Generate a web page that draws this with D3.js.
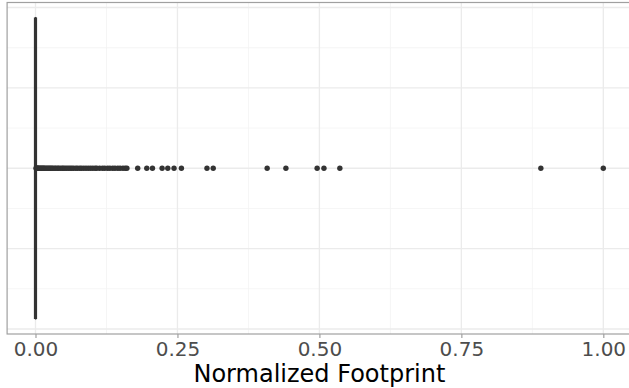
<!DOCTYPE html>
<html>
<head>
<meta charset="utf-8">
<script src="https://cdn.jsdelivr.net/npm/d3@7"></script>
<style>
  html, body { margin: 0; padding: 0; background: #fff; }
  svg { display: block; }
</style>
</head>
<body>
<svg id="chart" width="629" height="388"></svg>
<script>
// Box summary of the normalized footprint (min, q1, median, q3, upper whisker)
const boxStats = [0, 0, 0, 0.0004, 0.0008];

// Outlying footprints beyond the upper whisker
const outliers = [
  0.001, 0.002, 0.003, 0.004, 0.005, 0.006, 0.008, 0.009, 0.011, 0.012,
  0.014, 0.015, 0.017, 0.019, 0.021, 0.023, 0.025, 0.027, 0.029, 0.031,
  0.034, 0.036, 0.039, 0.041, 0.044, 0.047, 0.049, 0.052, 0.055, 0.058,
  0.061, 0.064, 0.067, 0.071, 0.074, 0.078, 0.081, 0.085, 0.089, 0.093,
  0.097, 0.101, 0.105, 0.108, 0.113, 0.118, 0.122, 0.127, 0.131, 0.136,
  0.140, 0.145, 0.149, 0.154, 0.158, 0.161,
  0.180, 0.196, 0.206, 0.223, 0.233, 0.244, 0.257, 0.302, 0.313,
  0.408, 0.441, 0.496, 0.508, 0.536, 0.890, 1.000
];

// Axis breaks
const xMajor = [0, 0.25, 0.5, 0.75, 1];
const xMinor = [0.125, 0.375, 0.625, 0.875];
const xTickLabels = ["0.00", "0.25", "0.50", "0.75", "1.00"];
const yMajor = [-0.4, -0.2, 0, 0.2, 0.4];
const yMinor = [-0.3, -0.1, 0.1, 0.3];
const xTitle = "Normalized Footprint";

const svg = d3.select("#chart");
const W = 629, H = 388;
svg.append("rect").attr("width", W).attr("height", H).attr("fill", "#fff");

const panel = { left: 7.1, right: 631.7, top: 2.5, bottom: 334 };

const x = d3.scaleLinear().domain([-0.05, 1.05]).range([panel.left, panel.right]);
const y = d3.scaleLinear().domain([-0.4125, 0.4125]).range([panel.bottom, panel.top]);

const g = svg.append("g");

// minor grid
g.selectAll(".xminor").data(xMinor).join("line")
  .attr("x1", d => x(d)).attr("x2", d => x(d))
  .attr("y1", panel.top).attr("y2", panel.bottom)
  .attr("stroke", "#f2f2f2").attr("stroke-width", 0.8);
g.selectAll(".yminor").data(yMinor).join("line")
  .attr("y1", d => y(d)).attr("y2", d => y(d))
  .attr("x1", panel.left).attr("x2", panel.right)
  .attr("stroke", "#f2f2f2").attr("stroke-width", 0.8);

// major grid
g.selectAll(".xmajor").data(xMajor).join("line")
  .attr("x1", d => x(d)).attr("x2", d => x(d))
  .attr("y1", panel.top).attr("y2", panel.bottom)
  .attr("stroke", "#ebebeb").attr("stroke-width", 1.3);
g.selectAll(".ymajor").data(yMajor).join("line")
  .attr("y1", d => y(d)).attr("y2", d => y(d))
  .attr("x1", panel.left).attr("x2", panel.right)
  .attr("stroke", "#ebebeb").attr("stroke-width", 1.3);

// boxplot
const [bMin, q1, med, q3, bMax] = boxStats;
const halfW = 0.375;
g.append("line")
  .attr("x1", x(q3)).attr("x2", x(bMax))
  .attr("y1", y(0)).attr("y2", y(0))
  .attr("stroke", "#333").attr("stroke-width", 1.2);
g.append("rect")
  .attr("x", x(q1)).attr("width", Math.max(0, x(q3) - x(q1)))
  .attr("y", y(halfW)).attr("height", y(-halfW) - y(halfW))
  .attr("fill", "#fff").attr("stroke", "#333").attr("stroke-width", 1.2);
g.append("line")
  .attr("x1", x(med)).attr("x2", x(med))
  .attr("y1", y(halfW)).attr("y2", y(-halfW))
  .attr("stroke", "#333").attr("stroke-width", 3.2);

// outliers
g.selectAll(".out").data(outliers).join("circle")
  .attr("cx", d => x(d)).attr("cy", y(0)).attr("r", 2.7)
  .attr("fill", "#333");

// panel border
svg.append("rect")
  .attr("x", panel.left).attr("y", panel.top)
  .attr("width", panel.right - panel.left).attr("height", panel.bottom - panel.top)
  .attr("fill", "none").attr("stroke", "#a0a0a0").attr("stroke-width", 1.2);

// x axis
const axis = d3.axisBottom(x).tickValues(xMajor)
  .tickFormat((d, i) => xTickLabels[i]).tickSize(4).tickPadding(4);
const ax = svg.append("g").attr("transform", `translate(0,${panel.bottom})`).call(axis);
ax.select(".domain").remove();
ax.selectAll(".tick line").attr("stroke", "#a0a0a0").attr("stroke-width", 1.2);
ax.selectAll(".tick text")
  .attr("fill", "#4d4d4d")
  .attr("font-family", "DejaVu Sans")
  .attr("font-size", 20)
  .attr("dy", null)
  .attr("y", 22);

svg.append("text")
  .attr("x", (panel.left + panel.right) / 2).attr("y", 382)
  .attr("text-anchor", "middle")
  .attr("font-family", "DejaVu Sans").attr("font-size", 24)
  .attr("fill", "#000")
  .text(xTitle);
</script>
</body>
</html>
